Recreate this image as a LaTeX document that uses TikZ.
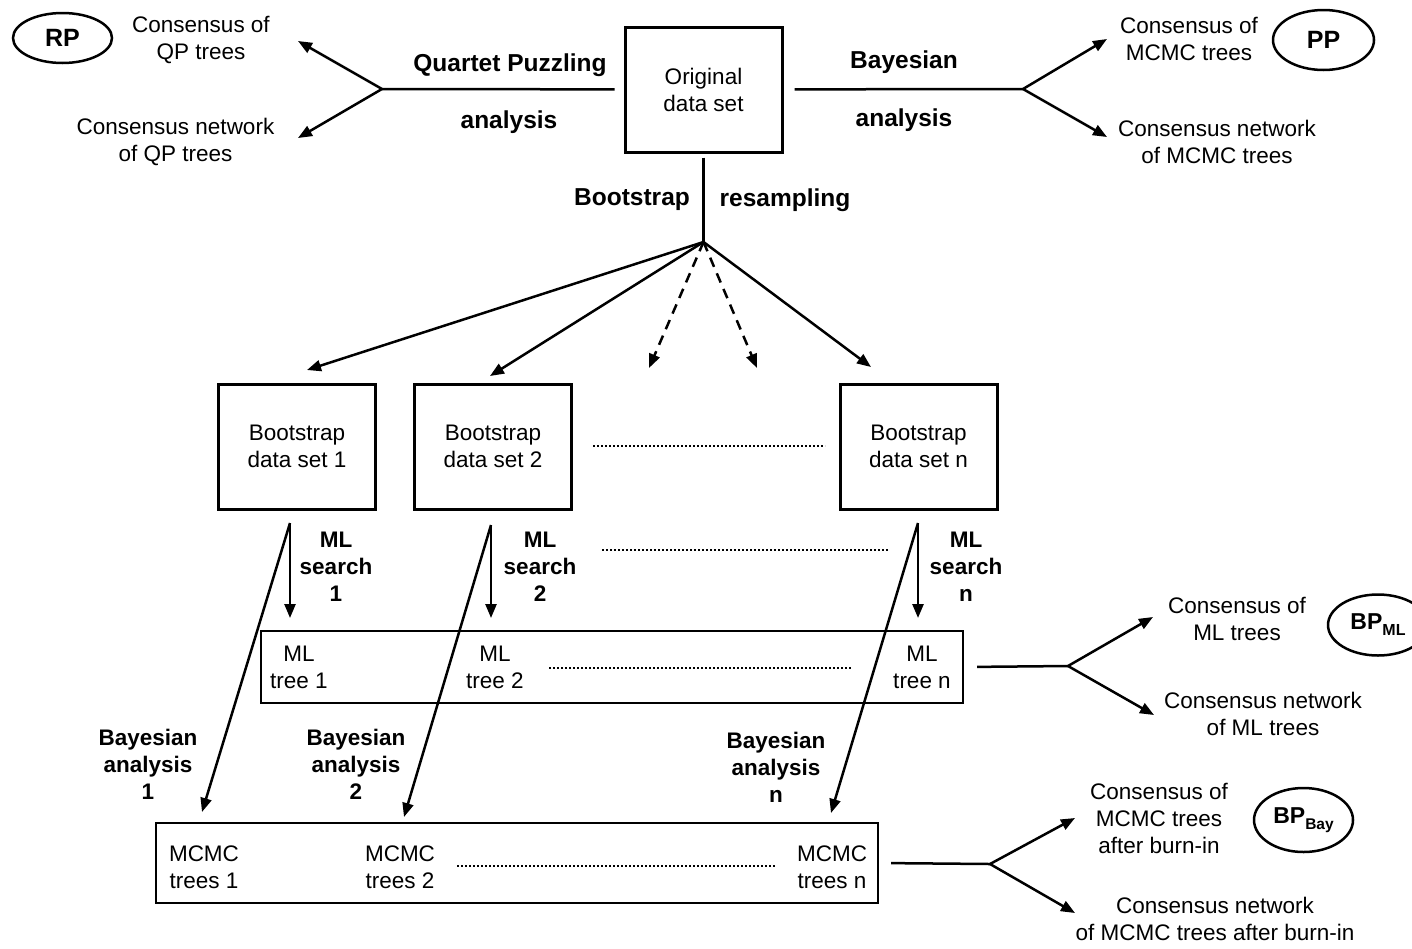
\documentclass[tikz,border=0pt]{standalone}
\usepackage{fontspec}
\setmainfont{Liberation Sans}
\usetikzlibrary{arrows.meta,shapes.geometric}
\tikzset{
  txt/.style={inner sep=0pt, align=center, font=\fontsize{22.5}{27}\selectfont},
  lbl/.style={inner sep=0pt, align=center, font=\fontsize{22.5}{27}\selectfont\bfseries},
  biglbl/.style={inner sep=0pt, align=center, font=\fontsize{24.5}{29}\selectfont\bfseries},
  bigbox/.style={draw, line width=3pt, minimum width=157pt, minimum height=125pt, inner sep=0pt, align=center, font=\fontsize{22.5}{27}\selectfont},
  widebox/.style={draw, line width=2pt, inner sep=0pt},
  oval/.style={draw, ellipse, line width=2.5pt, inner sep=0pt, font=\fontsize{25}{25}\selectfont\bfseries},
  conn/.style={line width=2.5pt},
  arr/.style={line width=2.5pt, -{Triangle[length=14pt,width=11pt]}},
  dasharr/.style={arr, dash pattern=on 10pt off 7pt},
  dots/.style={line width=2.5pt, dash pattern=on 2pt off 2pt}
}
\begin{document}
\begin{tikzpicture}[x=1pt,y=-1pt]
\useasboundingbox (0,0) rectangle (1412,948);

% ---------- top row ----------
\node[bigbox] (orig) at (703.5,89.5) {Original\\data set};
\node[oval, minimum width=99pt, minimum height=50pt] (rp) at (62.5,38) {RP};
\node[oval, minimum width=101pt, minimum height=60pt] (pp) at (1323.5,40) {PP};

\node[txt] (cqp) at (201,40) {Consensus of\\QP trees};
\node[txt] (nqp) at (175.5,141.5) {Consensus network\\of QP trees};
\node[txt] (cmc) at (1189,39) {Consensus of\\MCMC trees};
\node[txt] (nmc) at (1217,141.5) {Consensus network\\of MCMC trees};

\node[biglbl] (qpl) at (510,65) {Quartet Puzzling};
\node[biglbl] (qpa) at (509,122) {analysis};
\node[biglbl] (byl) at (904,62) {Bayesian};
\node[biglbl] (bya) at (904,120) {analysis};
\node[biglbl] (bsl) at (632,200) {Bootstrap};
\node[biglbl] (bsr) at (785,200) {resampling};

\coordinate (qpj) at (382,89);
\coordinate (qpu) at (298,41);
\coordinate (qpd) at (298,138);
\draw[conn, shorten <=9pt] (orig) -- (qpj);
\draw[arr] (qpj) -- (qpu);
\draw[arr] (qpj) -- (qpd);

\coordinate (byj) at (1023,89);
\coordinate (byu) at (1107,39);
\coordinate (byd) at (1107,137);
\draw[conn, shorten <=11pt] (orig) -- (byj);
\draw[arr] (byj) -- (byu);
\draw[arr] (byj) -- (byd);

% ---------- bootstrap ----------
\coordinate (bsj) at (703.5,242);
\draw[conn, shorten <=4pt] (orig) -- (bsj);
\coordinate (t1) at (307,370);
\coordinate (t2) at (490,376);
\coordinate (t3) at (649,368);
\coordinate (t4) at (757,368);
\coordinate (tn) at (871,367);
\draw[arr] (bsj) -- (t1);
\draw[arr] (bsj) -- (t2);
\draw[dasharr] (bsj) -- (t3);
\draw[dasharr] (bsj) -- (t4);
\draw[arr] (bsj) -- (tn);

\node[bigbox] (b1) at (297,446.5) {Bootstrap\\data set 1};
\node[bigbox] (b2) at (493,446.5) {Bootstrap\\data set 2};
\node[bigbox] (bn) at (918.5,446.5) {Bootstrap\\data set n};
\draw[dots] (593,446) -- (825,446);

% ---------- ML search ----------
\coordinate (s1) at (290,523);
\coordinate (m1) at (290,618);
\coordinate (y1) at (202,812);
\coordinate (s2) at (491,525);
\coordinate (m2) at (491,618);
\coordinate (y2) at (404,817);
\coordinate (sn) at (918,523);
\coordinate (mn) at (918,618);
\coordinate (yn) at (831,813);
\draw[arr] (s1) -- (m1);
\draw[arr] (s2) -- (m2);
\draw[arr] (sn) -- (mn);
\draw[arr] (s1) -- (y1);
\draw[arr] (s2) -- (y2);
\draw[arr] (sn) -- (yn);

\node[lbl] (ms1) at (336,567) {ML\\search\\1};
\node[lbl] (ms2) at (540,567) {ML\\search\\2};
\node[lbl] (msn) at (966,567) {ML\\search\\n};
\draw[dots] (602,550) -- (889,550);

\node[widebox, minimum width=702pt, minimum height=72pt] (mlbox) at (612,667) {};
\node[txt] (ml1) at (299,667) {ML\\tree 1};
\node[txt] (ml2) at (495,667) {ML\\tree 2};
\node[txt] (mln) at (922,667) {ML\\tree n};
\draw[dots] (549,668) -- (852,668);

\coordinate (mlj) at (1068,666);
\coordinate (mlu) at (1153,617);
\coordinate (mld) at (1154,715);
\draw[conn, shorten <=13pt] (mlbox.east) -- (mlj);
\draw[arr] (mlj) -- (mlu);
\draw[arr] (mlj) -- (mld);
\node[txt] (cml) at (1237,619) {Consensus of\\ML trees};
\node[txt] (nml) at (1263,713.5) {Consensus network\\of ML trees};
\node[oval, minimum width=100pt, minimum height=61pt, font=\fontsize{23}{23}\selectfont\bfseries] (bpml) at (1378,625) {BP\raisebox{-6pt}{\fontsize{16}{16}\selectfont ML}};

% ---------- Bayesian ----------
\node[lbl] (ba1) at (148,764) {Bayesian\\analysis\\1};
\node[lbl] (ba2) at (356,764) {Bayesian\\analysis\\2};
\node[lbl] (ban) at (776,767) {Bayesian\\analysis\\n};

\node[widebox, minimum width=722pt, minimum height=80pt] (mcbox) at (517,863) {};
\node[txt] (mc1) at (204,867) {MCMC\\trees 1};
\node[txt] (mc2) at (400,867) {MCMC\\trees 2};
\node[txt] (mcn) at (832,867) {MCMC\\trees n};
\draw[dots] (457,866) -- (775,866);

\coordinate (mcj) at (990,864);
\coordinate (mcu) at (1075,818);
\coordinate (mcd) at (1075,913);
\draw[conn, shorten <=12pt] (mcbox.east) -- (mcj);
\draw[arr] (mcj) -- (mcu);
\draw[arr] (mcj) -- (mcd);
\node[txt] (cbi) at (1159,818) {Consensus of\\MCMC trees\\after burn-in};
\node[txt] (nbi) at (1215,918.5) {Consensus network\\of MCMC trees after burn-in};
\node[oval, minimum width=99pt, minimum height=64pt, font=\fontsize{23}{23}\selectfont\bfseries] (bpbay) at (1303.5,820) {BP\raisebox{-6pt}{\fontsize{15.5}{15.5}\selectfont Bay}};
\end{tikzpicture}
\end{document}
